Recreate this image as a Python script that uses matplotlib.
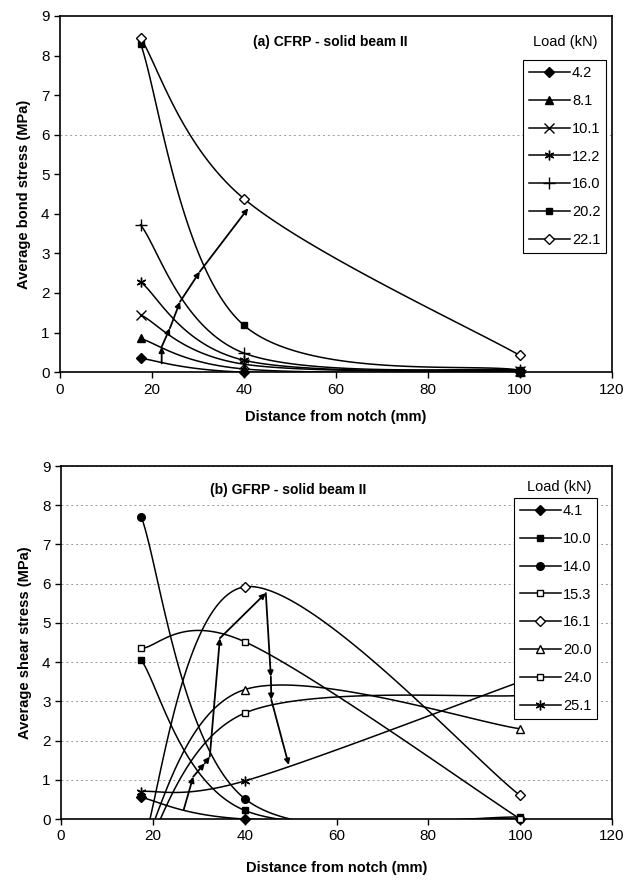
import numpy as np
import matplotlib
matplotlib.use("Agg")
import matplotlib.pyplot as plt
from matplotlib.lines import Line2D

plt.rcParams['font.family'] = ['Liberation Sans', 'DejaVu Sans']
plt.rcParams['font.size'] = 10

# distance from notch (mm)
dist = [17.5, 40, 100]

# (a) CFRP - average bond stress (MPa)
loads_a = ['4.2', '8.1', '10.1', '12.2', '16.0', '20.2', '22.1']
bond_a = [
    [0.35, 0.0, 0.0],
    [0.85, 0.08, 0.0],
    [1.45, 0.2, 0.02],
    [2.28, 0.3, 0.03],
    [3.72, 0.48, 0.05],
    [8.3, 1.18, 0.05],
    [8.45, 4.38, 0.42],
]
markers_a = ['D', '^', 'x', (6, 2, 0), '+', 's', 'D']
filled_a = [True, True, True, True, True, True, False]

# (b) GFRP - average shear stress (MPa)
loads_b = ['4.1', '10.0', '14.0', '15.3', '16.1', '20.0', '24.0', '25.1']
shear_b = [
    [0.55, 0.0, 0.0],
    [4.05, 0.22, 0.05],
    [7.7, 0.52, 0.0],
    [4.35, 4.52, 0.0],
    [-0.8, 5.92, 0.6],
    [-0.8, 3.3, 2.3],
    [-1.0, 2.7, 3.15],
    [0.7, 0.97, 3.5],
]
markers_b = ['D', 's', 'o', 's', 'D', '^', 's', (6, 2, 0)]
filled_b = [True, True, True, False, False, False, False, True]

# load-increase arrows (path through the curves)
arrow_a = [(22.1, 0.22), (22.1, 0.64), (23.9, 1.11), (26.1, 1.78), (30.4, 2.54), (40.9, 4.14)]
arrow_b = [(26.7, 0.23), (28.8, 1.08), (31.3, 1.42), (32.4, 1.59), (34.6, 4.61),
           (44.6, 5.76), (45.7, 3.63), (45.8, 3.04), (49.6, 1.38)]

marker_size = {'D': 5, 's': 5, 'o': 5.5, '^': 6, 'x': 7, '+': 8, (6, 2, 0): 7}


def smooth(xs, ys, n=60):
    # Excel-like smoothed line (Catmull-Rom as cubic Bezier)
    pts = np.column_stack([xs, ys]).astype(float)
    out = []
    for i in range(len(pts) - 1):
        p0 = pts[max(i - 1, 0)]
        p1 = pts[i]
        p2 = pts[i + 1]
        p3 = pts[min(i + 2, len(pts) - 1)]
        c1 = p1 + (p2 - p0) / 6
        c2 = p2 - (p3 - p1) / 6
        t = np.linspace(0, 1, n)[:, None]
        seg = (1 - t) ** 3 * p1 + 3 * (1 - t) ** 2 * t * c1 + 3 * (1 - t) * t ** 2 * c2 + t ** 3 * p2
        out.append(seg if i == 0 else seg[1:])
    return np.vstack(out)


def draw_panel(ax, loads, data, markers, filled, title, ylabel, arrow, legpos, titlepos, loadpos, xpad):
    handles = []
    for lab, ys, m, f in zip(loads, data, markers, filled):
        curve = smooth(dist, ys)
        ax.plot(curve[:, 0], curve[:, 1], color='k', lw=1.1, zorder=3)
        xs = [x for x, y in zip(dist, ys) if y >= 0]
        yv = [y for y in ys if y >= 0]
        fc = 'k' if f else 'white'
        ms = marker_size[m]
        ax.plot(xs, yv, ls='none', marker=m, ms=ms, mfc=fc, mec='k', mew=1.0,
                clip_on=False, zorder=4)
        handles.append(Line2D([0], [0], color='k', lw=1.1, marker=m, ms=ms, mfc=fc,
                              mec='k', mew=1.0, label=lab))

    for p, q in zip(arrow[:-1], arrow[1:]):
        ax.annotate('', xy=q, xytext=p,
                    arrowprops=dict(arrowstyle='-|>', color='k', lw=1.3,
                                    mutation_scale=8, shrinkA=0, shrinkB=0),
                    zorder=5)

    ax.set_xlim(0, 120)
    ax.set_ylim(0, 9)
    ax.set_xticks(range(0, 121, 20))
    ax.set_yticks(range(0, 10))
    ax.tick_params(direction='out', length=4, width=1, labelsize=11)
    for s in ax.spines.values():
        s.set_linewidth(1.2)
        s.set_color('k')
    ax.set_xlabel('Distance from notch (mm)', fontweight='bold', fontsize=10.5, labelpad=xpad)
    ax.set_ylabel(ylabel, fontweight='bold', fontsize=10.5, labelpad=7)
    ax.text(titlepos[0], titlepos[1], title, transform=ax.transAxes, fontweight='bold',
            fontsize=10, ha='center', va='center')
    ax.text(loadpos[0], loadpos[1], 'Load (kN)', transform=ax.transAxes,
            fontsize=10.5, ha='center', va='center')
    leg = ax.legend(handles=handles, loc='upper left', bbox_to_anchor=legpos,
                    borderaxespad=0, frameon=True, fancybox=False, framealpha=1,
                    edgecolor='k', handlelength=2.8, handletextpad=0.15,
                    labelspacing=0.95, borderpad=0.4, fontsize=10.5)
    leg.get_frame().set_linewidth(0.8)
    leg.set_zorder(10)


fig = plt.figure(figsize=(6.29, 8.86), dpi=100)
ax1 = fig.add_axes([0.0954, 0.580, 0.8776, 0.402])
ax2 = fig.add_axes([0.097, 0.0756, 0.876, 0.3984])

draw_panel(ax1, loads_a, bond_a, markers_a, filled_a, '(a) CFRP - solid beam II',
           'Average bond stress (MPa)', arrow_a, (0.839, 0.876), (0.489, 0.927), (0.915, 0.927), 10)
ax1.axhline(6, color='0.6', lw=0.7, ls=(0, (2, 3)), zorder=1)

draw_panel(ax2, loads_b, shear_b, markers_b, filled_b, '(b) GFRP - solid beam II',
           'Average shear stress (MPa)', arrow_b, (0.822, 0.909), (0.412, 0.932), (0.904, 0.94), 13)
ax2.yaxis.grid(True, color='0.6', lw=0.7, ls=(0, (2, 3)), zorder=1)
ax2.set_axisbelow(True)

fig.savefig('out.png', dpi=100)
